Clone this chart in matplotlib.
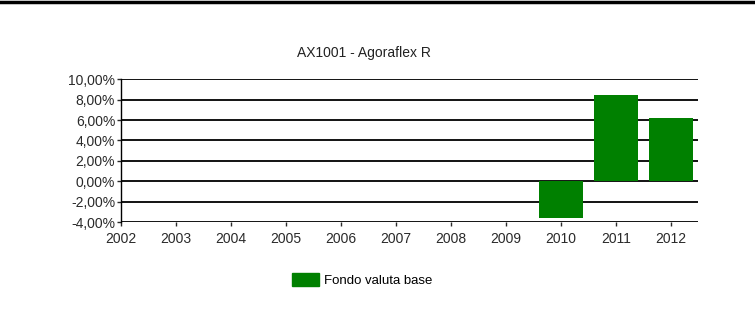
import numpy as np
import matplotlib
matplotlib.use('Agg')
import matplotlib.pyplot as plt
from matplotlib.lines import Line2D
from matplotlib.patches import Patch

# Dati
anni = [2002, 2003, 2004, 2005, 2006, 2007, 2008, 2009, 2010, 2011, 2012]
anni_barre = [2010, 2011, 2012]
rendimenti = [-3.6, 8.45, 6.25]
y_ticks = [-4, -2, 0, 2, 4, 6, 8, 10]

plt.rcParams['font.family'] = ['Liberation Sans', 'DejaVu Sans']
verde = '#008000'
grigio = '#2a2a2a'

fig = plt.figure(figsize=(7.55, 3.29), dpi=100)
ax = fig.add_axes([0.160, 0.325, 0.7645, 0.434])

# griglia orizzontale
for v in y_ticks:
    ax.axhline(v, color='black', linewidth=1.3, zorder=1)

ax.bar(anni_barre, rendimenti, width=0.8, color=verde, zorder=2)

ax.set_xlim(2002, 2012.49)
ax.set_ylim(-4, 10)
ax.set_xticks(anni)
ax.set_xticklabels([str(a) for a in anni])
ax.set_yticks(y_ticks)
ax.set_yticklabels([f'{v:.2f}%'.replace('.', ',') for v in y_ticks])
ax.tick_params(axis='both', labelsize=10, colors=grigio, length=3, width=1)
ax.tick_params(axis='x', pad=4)
ax.tick_params(axis='y', pad=1)

for s in ['top', 'right', 'bottom']:
    ax.spines[s].set_visible(False)
ax.spines['left'].set_color('black')
ax.spines['left'].set_linewidth(1.0)

fig.text(0.482, 0.838, 'AX1001 - Agoraflex R', ha='center', va='center',
         fontsize=10, color='#222222')

fig.legend(handles=[Patch(color=verde, label='Fondo valuta base')],
           loc='center', bbox_to_anchor=(0.48, 0.148),
           frameon=False, fontsize=9.5, handlelength=2.0, handleheight=1.1,
           handletextpad=0.4)

# linea nera in alto
fig.add_artist(Line2D([0, 1], [0.994, 0.994], color='black', linewidth=2.5,
                      transform=fig.transFigure))

plt.savefig('out.png', dpi=100)
